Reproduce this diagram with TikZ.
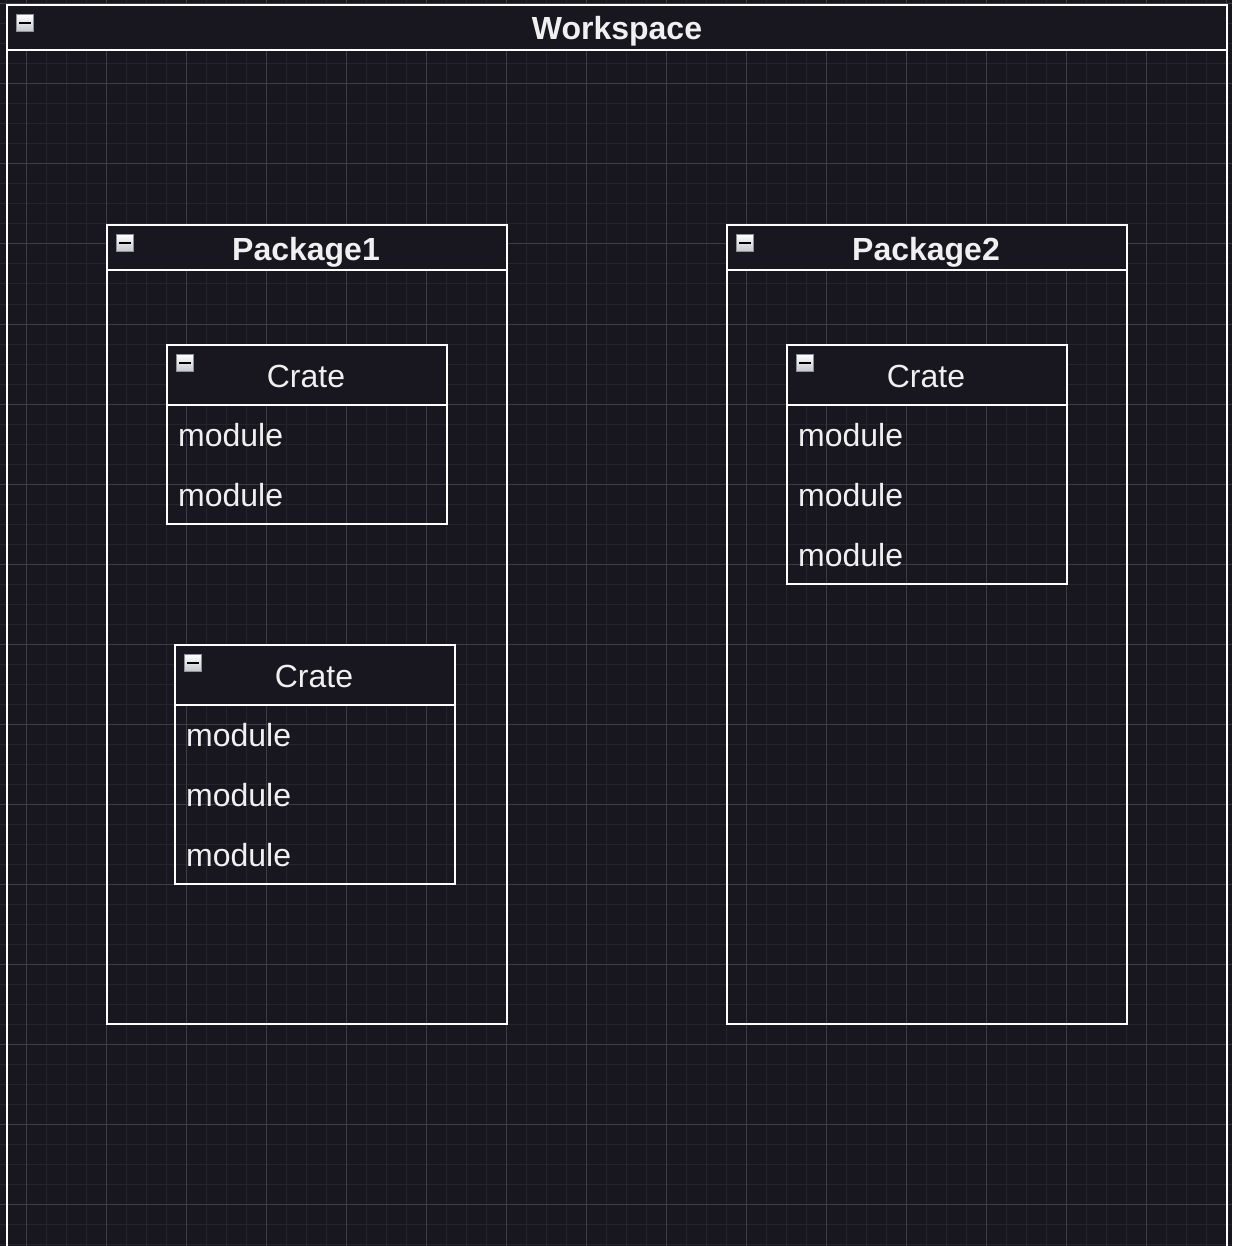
\documentclass[tikz,border=0pt]{standalone}
\usepackage{fontspec}
\setmainfont{Liberation Sans}
\usetikzlibrary{shadings}
\definecolor{bgc}{RGB}{24,22,30}
\definecolor{gridminor}{RGB}{37,35,43}
\definecolor{gridmajor}{RGB}{62,61,66}
\definecolor{txt}{RGB}{240,240,240}
\definecolor{iconedge}{RGB}{138,146,156}
\definecolor{iconlow}{RGB}{196,198,202}
\tikzset{
  box/.style={draw=white, line width=2pt, rectangle, anchor=north west, inner sep=0pt, outer sep=0pt},
  header/.style={box, fill=bgc},
  titlebold/.style={font=\bfseries\fontsize{32}{38}\selectfont, text=txt, inner sep=0pt, anchor=base},
  titleplain/.style={font=\fontsize{32}{38}\selectfont, text=txt, inner sep=0pt, anchor=base},
  item/.style={font=\fontsize{32}{38}\selectfont, text=txt, inner sep=0pt, anchor=base west},
  icon/.style={rectangle, draw=iconedge, line width=1.5pt, minimum size=17pt, inner sep=0pt,
    top color=white, bottom color=iconlow,
    path picture={\fill[black] (path picture bounding box.center) ++(-6,-1.3) rectangle ++(12,2.6);}},
}
\begin{document}
\begin{tikzpicture}[x=1pt,y=-1pt]
\useasboundingbox (0,0) rectangle (1232,1246);
\clip (0,0) rectangle (1232,1246);
\fill[bgc] (0,0) rectangle (1232,1246);
% grid
\foreach \x in {6,26,...,1226} \draw[gridminor, line width=1pt] (\x,0) -- (\x,1246);
\foreach \y in {4,24,...,1244} \draw[gridminor, line width=1pt] (0,\y) -- (1232,\y);
\foreach \x in {26,106,...,1226} \draw[gridmajor, line width=1pt] (\x,0) -- (\x,1246);
\foreach \y in {4,84,...,1244} \draw[gridmajor, line width=1pt] (0,\y) -- (1232,\y);

% Workspace
\node[box, minimum width=1220pt, minimum height=1300pt] (ws) at (7,5) {};
\node[header, minimum width=1220pt, minimum height=45.5pt] (wsh) at (7,5) {};
\node[titlebold] (wst) at (617,40) {Workspace};
\node[icon] (wsi) at (25,23) {};

% Package1
\node[box, minimum width=400pt, minimum height=799pt] (p1) at (107,225) {};
\node[header, minimum width=400pt, minimum height=45.5pt] (p1h) at (107,225) {};
\node[titlebold] (p1t) at (306,260.5) {Package1};
\node[icon] (p1i) at (125,243) {};

% Package2
\node[box, minimum width=400pt, minimum height=799pt] (p2) at (727,225) {};
\node[header, minimum width=400pt, minimum height=45.5pt] (p2h) at (727,225) {};
\node[titlebold] (p2t) at (926,260.5) {Package2};
\node[icon] (p2i) at (745,243) {};

% Crate 1
\node[box, minimum width=280pt, minimum height=179pt] (c1) at (167,345) {};
\node[header, minimum width=280pt, minimum height=60pt] (c1h) at (167,345) {};
\node[titleplain] (c1t) at (306,387) {Crate};
\node[icon] (c1i) at (185,363) {};
\node[item] (c1m1) at (178,446) {module};
\node[item] (c1m2) at (178,506) {module};

% Crate 2
\node[box, minimum width=280pt, minimum height=239pt] (c2) at (175,645) {};
\node[header, minimum width=280pt, minimum height=60pt] (c2h) at (175,645) {};
\node[titleplain] (c2t) at (314,687) {Crate};
\node[icon] (c2i) at (193,663) {};
\node[item] (c2m1) at (186,746) {module};
\node[item] (c2m2) at (186,806) {module};
\node[item] (c2m3) at (186,866) {module};

% Crate 3
\node[box, minimum width=280pt, minimum height=239pt] (c3) at (787,345) {};
\node[header, minimum width=280pt, minimum height=60pt] (c3h) at (787,345) {};
\node[titleplain] (c3t) at (926,387) {Crate};
\node[icon] (c3i) at (805,363) {};
\node[item] (c3m1) at (798,446) {module};
\node[item] (c3m2) at (798,506) {module};
\node[item] (c3m3) at (798,566) {module};
\end{tikzpicture}
\end{document}
